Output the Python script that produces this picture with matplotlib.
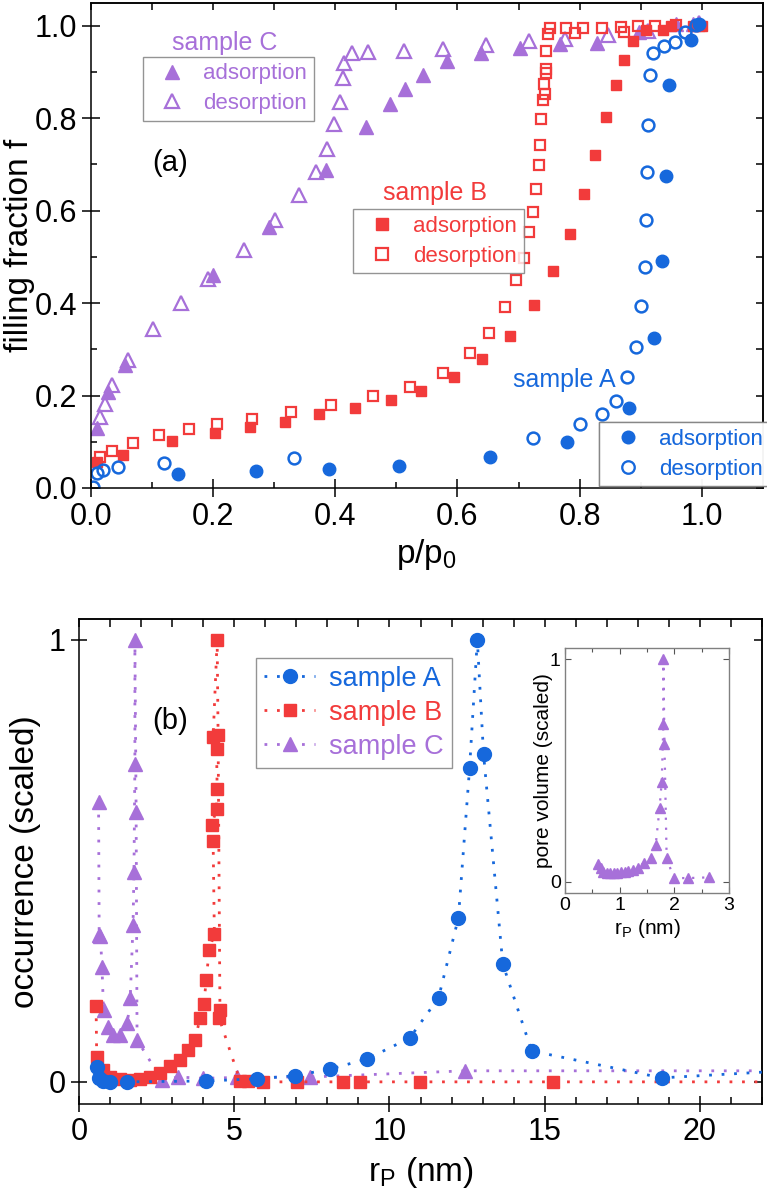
import numpy as np
import matplotlib
matplotlib.use('Agg')
import matplotlib.pyplot as plt
from matplotlib.ticker import MultipleLocator, NullFormatter
from matplotlib.lines import Line2D

plt.rcParams['font.family'] = ['Liberation Sans', 'DejaVu Sans']
plt.rcParams['mathtext.fontset'] = 'custom'
plt.rcParams['mathtext.rm'] = 'Liberation Sans'
plt.rcParams['mathtext.it'] = 'Liberation Sans:italic'
plt.rcParams['mathtext.default'] = 'regular'

# colours
blue = '#1668dc'
red = '#f23b3b'
purple = '#a770d9'

# ---- panel (a): isotherms, filling fraction vs p/p0 ----
a_ads_x = [0.142, 0.270, 0.390, 0.505, 0.653, 0.779, 0.881, 0.922, 0.935, 0.941, 0.947, 0.982, 0.995]
a_ads_y = [0.030, 0.037, 0.041, 0.047, 0.067, 0.100, 0.172, 0.325, 0.491, 0.674, 0.872, 0.969, 1.003]
a_des_x = [0.003, 0.010, 0.020, 0.045, 0.119, 0.333, 0.723, 0.800, 0.836, 0.859, 0.878, 0.893, 0.901,
           0.907, 0.909, 0.911, 0.912, 0.915, 0.920, 0.938, 0.956, 0.972, 0.990]
a_des_y = [0.002, 0.033, 0.039, 0.045, 0.055, 0.064, 0.108, 0.138, 0.161, 0.188, 0.240, 0.306, 0.393,
           0.478, 0.579, 0.683, 0.786, 0.894, 0.942, 0.957, 0.966, 0.986, 1.002]

b_ads_x = [0.010, 0.052, 0.132, 0.203, 0.260, 0.317, 0.374, 0.432, 0.491, 0.540, 0.595, 0.641, 0.686,
           0.726, 0.757, 0.784, 0.807, 0.826, 0.844, 0.859, 0.873, 0.888, 0.909, 0.936, 0.950, 0.985, 1.000]
b_ads_y = [0.056, 0.071, 0.101, 0.119, 0.132, 0.143, 0.160, 0.173, 0.190, 0.210, 0.240, 0.278, 0.328,
           0.395, 0.470, 0.550, 0.637, 0.721, 0.803, 0.872, 0.926, 0.967, 0.990, 0.990, 1.000, 1.000, 1.000]
b_des_x = [0.015, 0.035, 0.069, 0.112, 0.161, 0.206, 0.264, 0.328, 0.393, 0.462, 0.523, 0.576, 0.621,
           0.652, 0.678, 0.696, 0.709, 0.717, 0.724, 0.729, 0.733, 0.735, 0.737, 0.740, 0.743, 0.742,
           0.745, 0.745, 0.745, 0.748, 0.751, 0.777, 0.793, 0.806, 0.837, 0.867, 0.873, 0.896, 0.924,
           0.958, 0.995]
b_des_y = [0.067, 0.080, 0.097, 0.114, 0.127, 0.138, 0.150, 0.164, 0.179, 0.198, 0.218, 0.248, 0.291,
           0.335, 0.391, 0.449, 0.498, 0.553, 0.598, 0.648, 0.698, 0.743, 0.799, 0.840, 0.853, 0.874,
           0.897, 0.907, 0.946, 0.983, 0.995, 0.996, 0.985, 0.996, 0.996, 0.998, 0.987, 1.000, 1.000,
           1.002, 1.000]

c_ads_x = [0.010, 0.028, 0.055, 0.200, 0.292, 0.385, 0.450, 0.489, 0.514, 0.544, 0.583, 0.638, 0.703,
           0.768, 0.828, 0.898, 0.958, 0.985]
c_ads_y = [0.130, 0.207, 0.265, 0.460, 0.565, 0.687, 0.781, 0.830, 0.864, 0.894, 0.923, 0.941, 0.952,
           0.960, 0.963, 0.987, 1.005, 1.005]
c_des_x = [0.015, 0.023, 0.034, 0.060, 0.102, 0.148, 0.192, 0.250, 0.301, 0.340, 0.369, 0.387, 0.398,
           0.408, 0.412, 0.415, 0.428, 0.454, 0.512, 0.576, 0.647, 0.717, 0.776, 0.847, 0.912, 0.995]
c_des_y = [0.153, 0.181, 0.222, 0.276, 0.345, 0.401, 0.453, 0.516, 0.579, 0.635, 0.683, 0.734, 0.788,
           0.836, 0.888, 0.920, 0.942, 0.944, 0.946, 0.950, 0.958, 0.968, 0.972, 0.981, 0.989, 1.006]

# ---- panel (b): pore size distributions ----
rA = [0.58, 0.64, 0.78, 1.00, 1.55, 4.10, 5.74, 6.96, 8.10, 9.28, 10.65, 11.58, 12.22, 12.58, 12.83,
      13.03, 13.65, 14.58, 18.77, 24.0]
occA = [0.034, 0.009, 0.002, 0.000, 0.000, 0.002, 0.007, 0.014, 0.029, 0.052, 0.099, 0.190, 0.371,
        0.710, 1.000, 0.742, 0.267, 0.070, 0.009, 0.030]
rB = [0.55, 0.57, 0.78, 1.00, 1.32, 1.64, 1.96, 2.29, 2.61, 2.93, 3.25, 3.52, 3.74, 3.90, 4.02, 4.10,
      4.19, 4.36, 4.32, 4.28, 4.43, 4.45, 4.43, 4.32, 4.45, 4.48, 4.54, 4.51, 5.19, 5.45, 5.93, 7.02,
      8.50, 9.05, 10.98, 15.27, 24.0]
occB = [0.172, 0.057, 0.027, 0.012, 0.007, 0.005, 0.007, 0.012, 0.020, 0.035, 0.050, 0.072, 0.095,
        0.145, 0.176, 0.231, 0.298, 0.335, 0.545, 0.581, 0.618, 0.663, 0.753, 0.780, 1.000, 0.785,
        0.163, 0.145, 0.002, 0.002, 0.000, 0.000, 0.000, 0.000, 0.000, 0.000, 0.000]
rC = [0.63, 0.65, 0.69, 0.74, 0.79, 0.92, 1.10, 1.33, 1.56, 1.65, 1.74, 1.77, 1.80, 1.80, 1.84, 1.87,
      2.67, 3.20, 4.00, 5.10, 7.44, 12.43, 24.0]
occC = [0.633, 0.333, 0.330, 0.260, 0.162, 0.125, 0.106, 0.105, 0.133, 0.190, 0.355, 0.475, 0.720,
        1.000, 0.610, 0.095, 0.004, 0.011, 0.008, 0.010, 0.011, 0.025, 0.025]

# inset: sample C pore volume
rC_in = [0.61, 0.65, 0.70, 0.76, 0.83, 0.90, 0.96, 1.03, 1.10, 1.16, 1.25, 1.33, 1.44, 1.58, 1.66,
         1.73, 1.77, 1.80, 1.80, 1.82, 1.86, 1.99, 2.25, 2.63]
vol_in = [0.080, 0.060, 0.045, 0.040, 0.040, 0.040, 0.040, 0.045, 0.045, 0.050, 0.055, 0.063, 0.085,
          0.107, 0.166, 0.330, 0.450, 0.710, 1.000, 0.620, 0.107, 0.017, 0.017, 0.020]

fig = plt.figure(figsize=(7.67, 11.98), dpi=100)


def frame(ax, xmaj, xmin, ymaj, ymin, lmaj, lmin):
    for s in ax.spines.values():
        s.set_linewidth(1.1)
    ax.xaxis.set_major_locator(MultipleLocator(xmaj))
    ax.xaxis.set_minor_locator(MultipleLocator(xmin))
    ax.yaxis.set_major_locator(MultipleLocator(ymaj))
    if ymin:
        ax.yaxis.set_minor_locator(MultipleLocator(ymin))
    ax.tick_params(which='major', direction='inout', length=lmaj, width=1.1)
    ax.tick_params(which='minor', direction='in', length=lmin, width=1.1)
    # ticks pointing inward on top and right
    top = ax.secondary_xaxis('top')
    top.xaxis.set_major_locator(MultipleLocator(xmaj))
    top.xaxis.set_minor_locator(MultipleLocator(xmin))
    top.xaxis.set_major_formatter(NullFormatter())
    top.tick_params(which='both', direction='in', length=lmin + 1, width=1.1)
    top.spines['top'].set_linewidth(1.1)
    right = ax.secondary_yaxis('right')
    right.yaxis.set_major_locator(MultipleLocator(ymaj))
    if ymin:
        right.yaxis.set_minor_locator(MultipleLocator(ymin))
    right.yaxis.set_major_formatter(NullFormatter())
    right.tick_params(which='both', direction='in', length=lmin + 1, width=1.1)
    right.spines['right'].set_linewidth(1.1)


# ================= panel (a) =================
ax1 = fig.add_axes([0.1186, 0.5927, 0.876, 0.405])
ms = 8.5
ax1.plot(c_ads_x, c_ads_y, '^', color=purple, ms=ms + 1, mec=purple)
ax1.plot(c_des_x, c_des_y, '^', color=purple, ms=ms + 1, mfc='none', mew=1.6)
ax1.plot(b_ads_x, b_ads_y, 's', color=red, ms=ms - 1)
ax1.plot(b_des_x, b_des_y, 's', color=red, ms=ms - 1.2, mfc='none', mew=1.6)
ax1.plot(a_ads_x, a_ads_y, 'o', color=blue, ms=ms + 0.5)
ax1.plot(a_des_x, a_des_y, 'o', color=blue, ms=ms, mfc='none', mew=1.8)

ax1.set_xlim(0, 1.1)
ax1.set_ylim(0, 1.05)
frame(ax1, 0.2, 0.1, 0.2, 0.1, 13, 4)
ax1.tick_params(labelsize=22)
ax1.set_xlabel('p/p$_0$', fontsize=24, labelpad=4)
ax1.set_ylabel('filling fraction f', fontsize=24)
ax1.yaxis.set_label_coords(-0.084, 0.5)
ax1.text(0.118, 0.67, '(a)', transform=ax1.transAxes, fontsize=21, ha='center', va='center')


def iso_legend(ax, color, marker, title, tx, ty, bx, by, msz):
    h = [Line2D([], [], ls='none', marker=marker, color=color, ms=msz),
         Line2D([], [], ls='none', marker=marker, color=color, ms=msz, mfc='none', mew=1.6)]
    leg = ax.legend(h, ['adsorption', 'desorption'], loc='upper left', bbox_to_anchor=(bx, by),
                    borderaxespad=0, fontsize=16, frameon=True, fancybox=False, handlelength=2.0,
                    handletextpad=0.4, labelspacing=0.4, borderpad=0.3, labelcolor=color)
    leg.get_frame().set_edgecolor('#7a7a7a')
    leg.get_frame().set_linewidth(1.0)
    ax.add_artist(leg)
    ax.text(tx, ty, title, transform=ax.transAxes, color=color, fontsize=18, ha='center', va='center')


iso_legend(ax1, purple, '^', 'sample C', 0.199, 0.918, 0.0774, 0.889, 10)
iso_legend(ax1, red, 's', 'sample B', 0.512, 0.608, 0.390, 0.575, 8)
iso_legend(ax1, blue, 'o', 'sample A', 0.705, 0.223, 0.756, 0.136, 9)

# ================= panel (b) =================
ax2 = fig.add_axes([0.103, 0.0785, 0.8905, 0.405])
dot = (0, (1, 3.5))
ax2.plot(rA, occA, ls=dot, lw=2, marker='o', ms=10, color=blue, label='sample A', zorder=3)
ax2.plot(rB, occB, ls=dot, lw=2, marker='s', ms=9, color=red, label='sample B', zorder=2)
ax2.plot(rC, occC, ls=dot, lw=2, marker='^', ms=10.5, color=purple, label='sample C', zorder=1)
ax2.set_xlim(0, 22)
ax2.set_ylim(-0.05, 1.048)
frame(ax2, 5, 1, 1, None, 12, 5)
ax2.tick_params(labelsize=22)
ax2.set_xlabel('r$_\\mathrm{P}$ (nm)', fontsize=24, labelpad=6)
ax2.set_ylabel('occurrence (scaled)', fontsize=24)
ax2.yaxis.set_label_coords(-0.056, 0.5)
ax2.text(0.133, 0.79, '(b)', transform=ax2.transAxes, fontsize=21, ha='center', va='center')

leg2 = ax2.legend(loc='upper left', bbox_to_anchor=(0.259, 0.92), borderaxespad=0, fontsize=19.5,
                  fancybox=False, handlelength=1.9, handletextpad=0.5, labelspacing=0.3,
                  borderpad=0.3)
leg2.get_frame().set_edgecolor('#7a7a7a')
leg2.get_frame().set_linewidth(1.0)
for t, c in zip(leg2.get_texts(), [blue, red, purple]):
    t.set_color(c)

# inset
ax3 = fig.add_axes([0.7366, 0.2546, 0.2138, 0.2045])
ax3.plot(rC_in, vol_in, ls=dot, lw=1.6, marker='^', ms=7.5, color=purple)
ax3.set_xlim(0, 3)
ax3.set_ylim(-0.05, 1.05)
for s in ax3.spines.values():
    s.set_color('#808080')
    s.set_linewidth(1.0)
ax3.xaxis.set_major_locator(MultipleLocator(1))
ax3.xaxis.set_minor_locator(MultipleLocator(0.5))
ax3.yaxis.set_major_locator(MultipleLocator(1))
ax3.tick_params(which='both', direction='in', top=True, right=True, length=3, width=0.8,
                color='#555555', labelsize=14, pad=3)
ax3.tick_params(which='major', length=4)
ax3.set_xlabel('r$_\\mathrm{P}$ (nm)', fontsize=15, labelpad=2)
ax3.set_ylabel('pore volume (scaled)', fontsize=15, labelpad=-2)

fig.savefig('out.png', dpi=100)
